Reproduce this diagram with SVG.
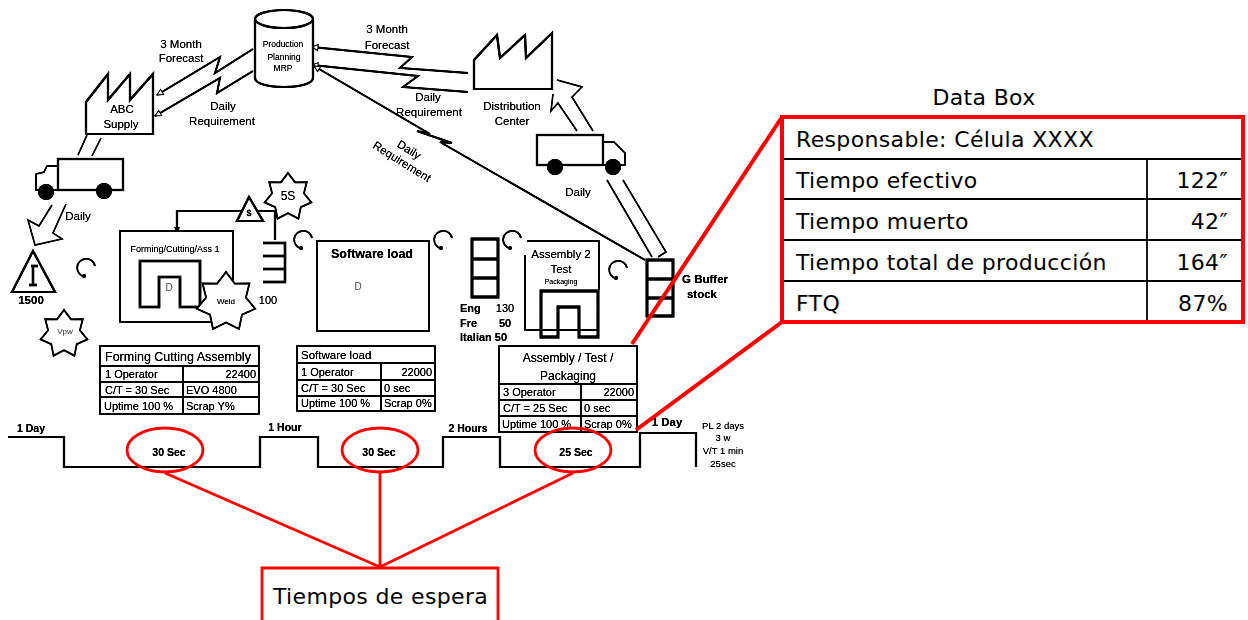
<svg xmlns="http://www.w3.org/2000/svg" xmlns:xlink="http://www.w3.org/1999/xlink" width="1248" height="620" viewBox="0 0 1248 620">
<style>
text{font-family:"Liberation Sans",Arial,sans-serif;fill:#111}
.s{fill:none;stroke:#000;stroke-width:2.2}
.w{fill:#fff;stroke:#000;stroke-width:2.2}
.k{fill:#fff;stroke:#000;stroke-width:2.8}
.g{fill:none;stroke:#111;stroke-width:1.5}
.z{fill:none;stroke:#000;stroke-width:1.9}
.t{fill:#fff;stroke:#111;stroke-width:1.7}
.l{font-size:11.5px;text-anchor:middle;fill:#111}
.c{font-size:9.5px;text-anchor:middle;fill:#222}
.d{font-size:11px;fill:#000}
.b{font-size:11.5px;font-weight:bold;text-anchor:middle;fill:#000}
.loop{fill:none;stroke:#000;stroke-width:1.7}
.r{fill:none;stroke:#f00;stroke-width:2.8}
.rb{fill:none;stroke:#f00;stroke-width:4}
.v{font-family:"DejaVu Sans",Verdana,sans-serif;font-size:22px;letter-spacing:.35px;fill:#000}
.bl{stroke:#000;stroke-width:1.8;fill:none}
</style>
<defs>
<filter id="soft" filterUnits="userSpaceOnUse" x="0" y="0" width="790" height="500" color-interpolation-filters="sRGB"><feGaussianBlur stdDeviation="0.7"/><feComponentTransfer><feFuncR type="linear" slope="1.5" intercept="-0.5"/><feFuncG type="linear" slope="1.5" intercept="-0.5"/><feFuncB type="linear" slope="1.5" intercept="-0.5"/></feComponentTransfer></filter>
<polygon id="star" fill="#fff" stroke="#111" stroke-width="1.7" vector-effect="non-scaling-stroke" points="0,-10 2.95,-6.13 7.82,-6.23 6.63,-1.52 9.75,2.23 5.32,4.24 4.34,9.01 0,6.8 -4.34,9.01 -5.32,4.24 -9.75,2.23 -6.63,-1.52 -7.82,-6.23 -2.95,-6.13"/>
<g id="loop"><path class="loop" d="M-2,8.5 A9,9 0 1 1 9,-2"/><circle cx="-2" cy="8" r="2" fill="#000"/></g>
<marker id="ah" markerUnits="userSpaceOnUse" markerWidth="8" markerHeight="8" refX="7" refY="4" orient="auto"><path d="M7,4 L1,1 V7 Z" fill="#fff" stroke="#444" stroke-width="1"/></marker>
</defs>
<g filter="url(#soft)">
<rect x="0" y="0" width="790" height="500" fill="#fff"/>
<g id="connectors">
<path class="z" marker-end="url(#ah)" d="M253,49 L215,73 L220,57 L157,95"/>
<path class="z" marker-end="url(#ah)" d="M253,71 L217,93 L220,78 L155,116"/>
<path class="z" marker-end="url(#ah)" d="M468,73 L400,68 L412,57 L312,47"/>
<path class="z" marker-end="url(#ah)" d="M468,92 L403,87 L418,76 L312,65"/>
<path class="z" marker-end="url(#ah)" d="M645,260 L440,142 L452,143 L417,131 L430,134 L314,66"/>
<path class="g" d="M87,135 L78,155 M101,138 L92,156"/>
<path class="g" d="M52,205 L39,226 L28,220 L35,245 L62,239 L53,233 L66,204"/>
<path class="g" d="M577,131 L558,103 L551,111 L553,94 M593,131 L572,97 L582,87 L557,80"/>
<path class="g" d="M607,180 L652,257 M623,180 L666,252 L658,257"/>
<path class="s" d="M275,240 V211 H177 V229"/>
<path d="M174,227 H180 L177,233 Z" fill="#000"/>
</g>
<g id="mrp"><path class="w" d="M255,20 V78 C255,90 313,90 313,78 V20"/><ellipse class="w" cx="284" cy="19" rx="29" ry="9"/>
<text class="c" x="283" y="47" style="font-size:8.5px">Production</text><text class="c" x="284" y="60" style="font-size:8.5px">Planning</text><text class="c" x="283" y="71" style="font-size:8.5px">MRP</text></g>
<g id="abc-supply"><path class="w" d="M86,134 V102 L108,74 V100 L130,74 V100 L153,74 V134 Z"/><text class="l" x="122" y="113">ABC</text><text class="l" x="121" y="128">Supply</text></g>
<g id="truck-left"><rect class="s" x="58" y="159" width="65" height="31"/><path class="s" style="stroke-width:1.5" d="M58,166 H47 L44,172 L36,174 V190 H58"/><circle cx="46" cy="192" r="8" fill="#000"/><circle cx="104" cy="191" r="8" fill="#000"/></g>
<g id="dist-center"><path class="w" d="M474,89 V60 L497,35 L500,58 L525,35 L526,58 L552,33 V89 Z"/><text class="l" x="512" y="110">Distribution</text><text class="l" x="512" y="125">Center</text></g>
<g id="truck-right"><rect class="s" x="537" y="135" width="66" height="30"/><path class="s" style="stroke-width:1.5" d="M603,142 H614 L622,150 L625,153 V165 H603"/><circle cx="555" cy="167" r="8" fill="#000"/><circle cx="613" cy="167" r="8" fill="#000"/></g>
<g id="labels">
<text class="l" x="181" y="48">3 Month</text><text class="l" x="181" y="62">Forecast</text>
<text class="l" x="223" y="110">Daily</text><text class="l" x="222" y="125">Requirement</text>
<text class="l" x="387" y="33">3 Month</text><text class="l" x="387" y="49">Forecast</text>
<text class="l" x="428" y="101">Daily</text><text class="l" x="429" y="116">Requirement</text>
<text class="l" transform="translate(407,153) rotate(32)">Daily</text><text class="l" transform="translate(400,165) rotate(32)">Requirement</text>
<text class="l" x="78" y="220">Daily</text><text class="l" x="578" y="196">Daily</text>
</g>
<g id="inv-1500"><path class="s" d="M33,251 L12,292 H55 Z"/><path d="M33,266 V285 M29,285 H37 M31,266 H38" stroke="#000" stroke-width="2.4" fill="none"/><text class="b" x="31" y="304">1500</text></g>
<g id="star-vpw"><use xlink:href="#star" transform="translate(64,334) scale(2.4)"/><text class="c" x="65" y="334" style="font-size:8px;fill:#777">Vpw</text></g>
<use xlink:href="#loop" transform="translate(86,268)"/>
<g id="forming"><rect class="t" x="120" y="231" width="113" height="91"/><text class="c" x="175" y="252" style="font-size:9px">Forming/Cutting/Ass 1</text><path class="s" style="stroke-width:2.6" d="M140,307 V261 H200 V307 H180 V277 H159 V307 Z"/><text class="c" x="169" y="291" style="font-size:10px;fill:#888">D</text></g>
<g id="star-weld"><use xlink:href="#star" transform="translate(226,302) scale(3)"/><text class="c" x="226" y="304" style="font-size:8px">Weld</text></g>
<g id="star-5s"><use xlink:href="#star" transform="translate(288,197) scale(2.4)"/><text class="c" x="288" y="200" style="font-size:12px">5S</text></g>
<g id="triangle-top"><path class="w" d="M249,197 L237,221 H263 Z"/><text class="b" x="249" y="216" style="font-size:9px">$</text></g>
<g id="inv-100"><path class="s" style="stroke-width:2.4" d="M263,243 H285 V282 H263 M263,256 H285 M263,269 H285"/><text class="l" x="268" y="304" style="font-size:11px">100</text></g>
<use xlink:href="#loop" transform="translate(303,240)"/>
<g id="software"><rect class="t" x="317" y="241" width="112" height="90"/><text class="b" x="372" y="258" style="font-size:12.5px">Software load</text><text class="c" x="358" y="290" style="font-size:10px;fill:#888">D</text></g>
<use xlink:href="#loop" transform="translate(443,240)"/>
<g id="stack"><path class="k" d="M472,239 H498 V297 H472 Z M472,259 H498 M472,278 H498"/><text class="b" x="460" y="312" style="text-anchor:start;font-size:11px">Eng</text><text class="b" x="505" y="312" style="font-size:11px;font-weight:normal">130</text><text class="b" x="460" y="327" style="text-anchor:start;font-size:11px">Fre</text><text class="b" x="505" y="327" style="font-size:11px">50</text><text class="b" x="460" y="341" style="text-anchor:start;font-size:11px">Italian 50</text></g>
<use xlink:href="#loop" transform="translate(512,240)"/>
<g id="assembly"><path class="g" d="M527,241 H599 V290 M525,255 V330 H599"/><text class="l" x="561" y="258">Assembly 2</text><text class="l" x="561" y="273">Test</text><text class="c" x="561" y="284" style="font-size:7px">Packaging</text><path class="s" style="stroke-width:2.8" d="M541,337 V291 H598 V337 H579 V307 H558 V337 Z"/></g>
<use xlink:href="#loop" transform="translate(618,270)"/>
<g id="buffer"><path class="k" d="M647,260 H673 V316 H647 Z M647,279 H673 M647,298 H673"/><text class="b" x="705" y="283">G Buffer</text><text class="b" x="702" y="298">stock</text></g>
<g id="table1"><path class="t" d="M100,346 H259 V414 H100 Z M100,366 H259 M100,382 H259 M100,397 H259 M183,366 V414"/>
<text class="d" x="105" y="361" style="font-size:12.5px">Forming Cutting Assembly</text><text class="d" x="105" y="378">1 Operator</text><text class="d" x="256" y="378" text-anchor="end">22400</text><text class="d" x="105" y="394">C/T = 30 Sec</text><text class="d" x="186" y="394">EVO 4800</text><text class="d" x="104" y="410">Uptime 100 %</text><text class="d" x="186" y="410">Scrap Y%</text></g>
<g id="table2"><path class="t" d="M297,346 H435 V411 H297 Z M297,363 H435 M297,380 H435 M297,396 H435 M381,363 V411"/>
<text class="d" x="301" y="359" style="font-size:11.5px">Software load</text><text class="d" x="301" y="376">1 Operator</text><text class="d" x="432" y="376" text-anchor="end">22000</text><text class="d" x="301" y="392">C/T = 30 Sec</text><text class="d" x="384" y="392">0 sec</text><text class="d" x="301" y="407">Uptime 100 %</text><text class="d" x="384" y="407">Scrap 0%</text></g>
<g id="table3"><path class="t" d="M499,346 H637 V432 H499 Z M499,384 H637 M499,400 H637 M499,416 H637 M581,384 V432"/>
<text class="c" x="568" y="362" style="font-size:12px;fill:#000">Assembly / Test /</text><text class="c" x="568" y="380" style="font-size:12px;fill:#000">Packaging</text><text class="d" x="503" y="396">3 Operator</text><text class="d" x="634" y="396" text-anchor="end">22000</text><text class="d" x="503" y="412">C/T = 25 Sec</text><text class="d" x="584" y="412">0 sec</text><text class="d" x="502" y="428">Uptime 100 %</text><text class="d" x="584" y="428">Scrap 0%</text></g>
<g id="timeline"><path class="g" style="stroke-width:2.2" d="M8,437 H64 V467 H260 V437 H318 V467 H443 V437 H500 V467 H640 V433 H696 V467"/>
<text class="b" x="31" y="432" style="font-size:10.5px">1 Day</text><text class="b" x="285" y="431" style="font-size:10.5px">1 Hour</text><text class="b" x="468" y="432" style="font-size:10.5px">2 Hours</text><text class="b" x="667" y="426" style="font-size:11.5px">1 Day</text>
<text class="b" x="169" y="456" style="font-size:10.5px">30 Sec</text><text class="b" x="379" y="456" style="font-size:10.5px">30 Sec</text><text class="b" x="576" y="456" style="font-size:10.5px">25 Sec</text>
<text class="c" x="723" y="429">PL 2 days</text><text class="c" x="723" y="441">3 w</text><text class="c" x="723" y="454">V/T 1 min</text><text class="c" x="723" y="467">25sec</text></g>
</g>
<g id="callouts"><path class="rb" d="M782,117 L632,344 M782,322 L636,430"/><path class="r" d="M165,473 L380,567 L573,473 M380,473 V567"/>
<ellipse class="r" cx="165" cy="450" rx="38" ry="22"/><ellipse class="r" cx="380" cy="450" rx="38" ry="22"/><ellipse class="r" cx="573" cy="450" rx="38" ry="22"/></g>
<g id="tiempos"><path class="r" d="M262,620 V568 H498 V620"/><text class="v" x="273" y="604">Tiempos de espera</text></g>
<g id="data-box"><text class="v" x="984" y="105" text-anchor="middle">Data Box</text>
<path class="bl" d="M782,159 H1243 M782,199 H1243 M782,240 H1243 M782,281 H1243 M1147,159 V322"/>
<rect x="782" y="117" width="461" height="205" fill="none" stroke="#f00" stroke-width="4"/>
<text class="v" x="796" y="147">Responsable: Célula XXXX</text>
<text class="v" x="796" y="188">Tiempo efectivo</text><text class="v" x="1228" y="188" text-anchor="end">122″</text>
<text class="v" x="796" y="229">Tiempo muerto</text><text class="v" x="1228" y="229" text-anchor="end">42″</text>
<text class="v" x="796" y="270">Tiempo total de producción</text><text class="v" x="1228" y="270" text-anchor="end">164″</text>
<text class="v" x="796" y="311">FTQ</text><text class="v" x="1228" y="311" text-anchor="end">87%</text></g>
</svg>
